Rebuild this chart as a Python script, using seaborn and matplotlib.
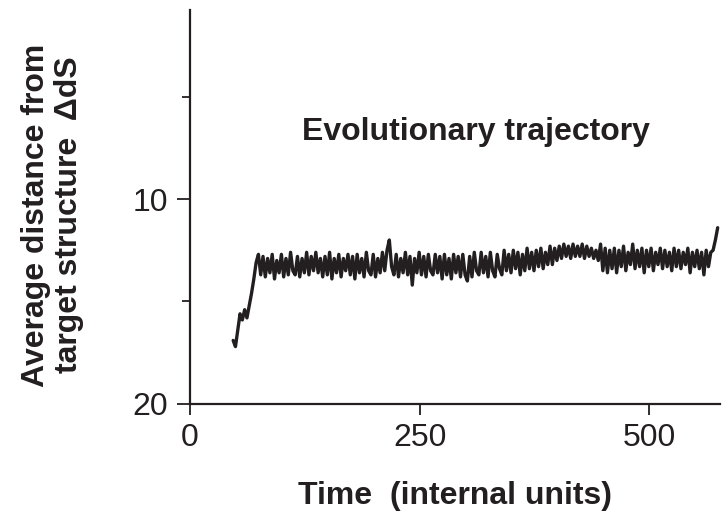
import numpy as np
import pandas as pd
import seaborn as sns
import matplotlib.pyplot as plt

# sampled trajectory: first sample time and step (internal units)
t_start = 47.0
t_step = 2.5

# average distance from target structure
distance = [
    16.9, 17.2, 16.4, 15.6, 15.9, 15.4, 15.8, 15.2, 14.6, 13.9,
    13.1, 12.7, 13.7, 12.8, 13.8, 12.9, 13.6, 12.7, 13.9, 13.0,
    13.6, 12.7, 13.8, 12.9, 13.7, 12.6, 13.5, 13.7, 12.8, 13.8,
    12.9, 13.6, 12.6, 13.7, 12.8, 13.5, 12.6, 13.6, 12.9, 13.8,
    12.8, 13.7, 12.6, 13.9, 12.9, 13.6, 12.7, 13.8, 12.9, 13.5,
    12.7, 13.7, 12.8, 13.9, 12.7, 13.6, 12.9, 13.8, 12.6, 13.5,
    13.7, 12.7, 13.8, 12.9, 13.6, 12.6, 13.5, 12.5, 12.0, 13.3,
    13.7, 12.7, 13.8, 12.9, 13.6, 12.6, 13.7, 12.8, 14.2, 12.9,
    13.6, 12.6, 13.7, 12.8, 13.8, 12.7, 13.5, 13.7, 12.7, 13.6,
    12.8, 13.9, 12.7, 13.7, 12.9, 13.9, 12.7, 13.6, 12.8, 13.8,
    12.7, 13.7, 14.0, 12.8, 13.8, 12.6, 13.5, 13.7, 12.6, 13.6,
    12.8, 13.8, 12.6, 13.5, 13.8, 12.7, 13.4, 13.7, 12.5, 13.5,
    12.7, 13.6, 12.5, 13.4, 12.6, 13.7, 12.7, 13.5, 12.4, 13.4,
    12.6, 13.5, 12.5, 13.3, 12.4, 13.4, 12.6, 13.2, 12.3, 13.2,
    12.4, 13.0, 12.3, 12.9, 12.2, 12.8, 12.3, 12.9, 12.2, 12.8,
    12.3, 12.8, 12.2, 12.9, 12.3, 12.8, 12.4, 12.9, 12.5, 13.0,
    12.2, 13.5, 12.4, 13.6, 12.5, 13.4, 12.4, 13.6, 12.5, 13.3,
    12.3, 13.5, 12.6, 13.2, 12.2, 13.4, 12.5, 13.3, 12.4, 13.6,
    12.5, 13.3, 12.4, 13.5, 12.6, 13.2, 12.4, 13.4, 12.5, 13.3,
    12.6, 13.5, 12.4, 13.3, 12.5, 13.4, 12.6, 13.2, 12.4, 13.6,
    12.6, 13.3, 12.5, 13.4, 12.6, 13.7, 12.5, 13.3, 12.6, 12.5,
    12.0, 11.4,
]

x_ticks = [0, 250, 500]
y_major_ticks = [10, 20]
y_minor_ticks = [5, 15]

ink = "#231f20"

df = pd.DataFrame({
    "time": t_start + t_step * np.arange(len(distance)),
    "distance": distance,
})

sns.set_theme(style="ticks")
plt.rcParams["font.family"] = ["Liberation Sans", "DejaVu Sans"]

fig = plt.figure(figsize=(7.26, 5.13), dpi=100)
ax = fig.add_axes([0.2617, 0.2125, 0.73, 0.768])

sns.lineplot(data=df, x="time", y="distance", ax=ax, color=ink,
             linewidth=2.4, estimator=None)

ax.set_xlim(0, 577)
ax.set_ylim(20, 0.78)
ax.set_xticks(x_ticks)
ax.set_yticks(y_major_ticks)
ax.set_yticks(y_minor_ticks, minor=True)

sns.despine(ax=ax)
for side in ["left", "bottom"]:
    ax.spines[side].set_linewidth(1.6)
    ax.spines[side].set_color(ink)

ax.tick_params(axis="both", which="major", length=9.5, width=1.3,
               color=ink, labelcolor=ink, labelsize=23, pad=6)
ax.tick_params(axis="y", which="minor", length=6, width=1.3, color=ink)
ax.tick_params(axis="x", which="major", length=8)

ax.set_xlabel("Time  (internal units)", fontsize=23, fontweight="bold",
              color=ink, labelpad=20)
ax.set_ylabel("Average distance from\ntarget structure  \u0394dS",
              fontsize=23, fontweight="bold", color=ink, linespacing=1.15)
ax.yaxis.set_label_coords(-0.2, 0.48)

ax.text(0.54, 0.69, "Evolutionary trajectory", transform=ax.transAxes,
        ha="center", va="center", fontsize=23, fontweight="bold", color=ink)

fig.savefig("out.png", dpi=100)
